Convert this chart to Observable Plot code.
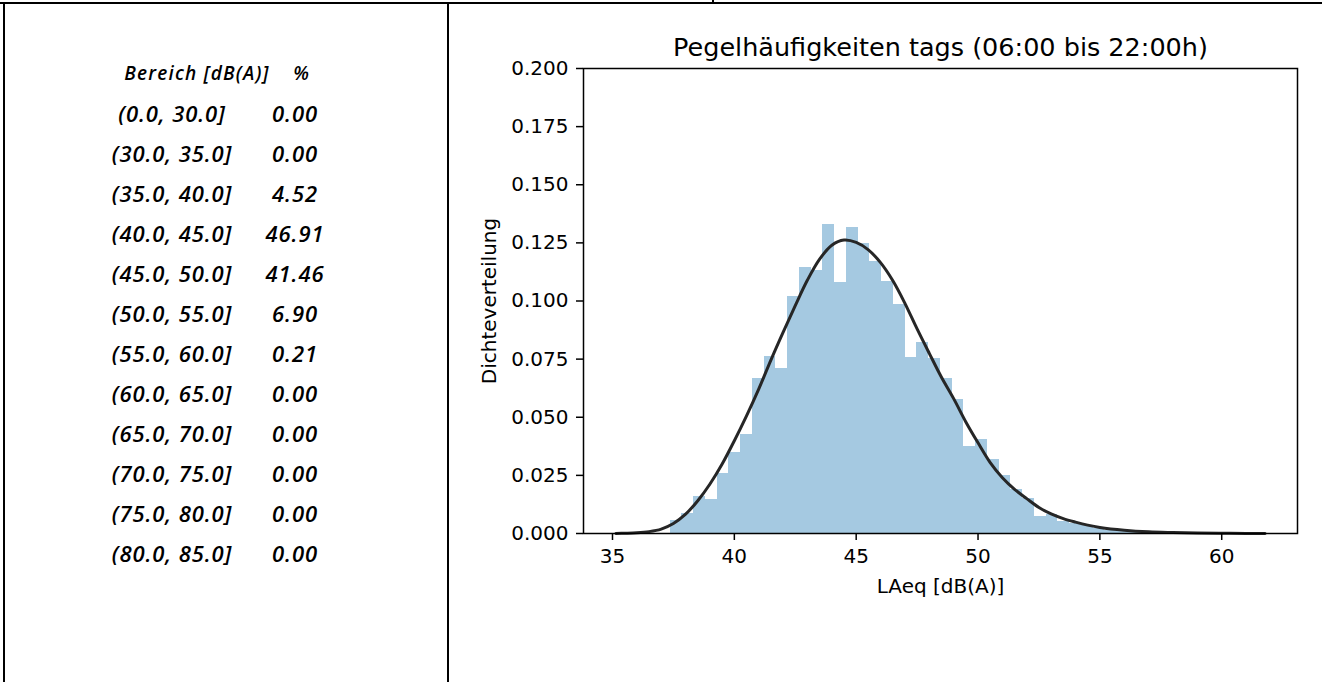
<!DOCTYPE html>
<html>
<head>
<meta charset="utf-8">
<script src="https://cdn.jsdelivr.net/npm/d3@7"></script>
<script src="https://cdn.jsdelivr.net/npm/@observablehq/plot@0.6"></script>
<style>
  html, body { margin: 0; padding: 0; background: #fff; overflow: hidden; }
  body { width: 1322px; height: 682px; position: relative; }
  .line { position: absolute; background: #000; }
  .cell { position: absolute; font-family: "Open Sans", sans-serif; font-style: italic; font-weight: 600; color: #000; white-space: nowrap; transform: translate(-50%, -50%); }
  #chart { position: absolute; left: 455px; top: 10px; }
</style>
</head>
<body>
<div class="line" style="left:0;top:2px;width:1322px;height:2px"></div>
<div class="line" style="left:712px;top:0;width:2px;height:3px"></div>
<div class="line" style="left:3px;top:2px;width:2px;height:680px"></div>
<div class="line" style="left:447px;top:2px;width:2px;height:680px"></div>
<div id="table"></div>
<div id="chart"></div>
<script>
// ---- table data ----
const headerRange = "Bereich [dB(A)]";
const headerPct = "%";
const rangeLabels = ["(0.0, 30.0]", "(30.0, 35.0]", "(35.0, 40.0]", "(40.0, 45.0]", "(45.0, 50.0]", "(50.0, 55.0]", "(55.0, 60.0]", "(60.0, 65.0]", "(65.0, 70.0]", "(70.0, 75.0]", "(75.0, 80.0]", "(80.0, 85.0]"];
const percentValues = ["0.00", "0.00", "4.52", "46.91", "41.46", "6.90", "0.21", "0.00", "0.00", "0.00", "0.00", "0.00"];

// ---- chart data ----
const title = "Pegelhäufigkeiten tags (06:00 bis 22:00h)";
const xLabel = "LAeq [dB(A)]";
const yLabel = "Dichteverteilung";
const xTicks = [35, 40, 45, 50, 55, 60];
const yTicks = [0, 0.025, 0.05, 0.075, 0.1, 0.125, 0.15, 0.175, 0.2];

const binEdges = [37.370, 37.852, 38.334, 38.816, 39.298, 39.780, 40.262, 40.744, 41.226, 41.708,
  42.190, 42.672, 43.154, 43.636, 44.118, 44.600, 45.082, 45.564, 46.046, 46.528,
  47.010, 47.492, 47.974, 48.456, 48.938, 49.420, 49.902, 50.384, 50.866, 51.348,
  51.830, 52.312, 52.794, 53.276, 53.758, 54.240, 54.722, 55.204, 55.686, 56.168,
  56.650, 57.132, 57.614, 58.096, 58.578, 59.060, 59.542];
const binDensity = [0.0055, 0.0086, 0.0157, 0.0145, 0.0259, 0.0348, 0.0427, 0.0666, 0.0763, 0.0711,
  0.1018, 0.1142, 0.1130, 0.1328, 0.1080, 0.1318, 0.1248, 0.1168, 0.1086, 0.0984,
  0.0755, 0.0821, 0.0752, 0.0665, 0.0578, 0.0376, 0.0405, 0.0318, 0.0249, 0.0189,
  0.0150, 0.0075, 0.0082, 0.0052, 0.0041, 0.0033, 0.0020, 0.0012, 0.0008, 0.0006,
  0.0004, 0.0004, 0.0002, 0.0000, 0.0002, 0.0002];

const kdeX = [35.14, 35.5, 36.0, 36.5, 37.0, 37.5, 38.0, 38.5, 39.0, 39.5, 40.0, 40.5, 41.0, 41.5, 42.0, 42.5,
  43.0, 43.5, 44.0, 44.5, 45.0, 45.5, 46.0, 46.5, 47.0, 47.5, 48.0, 48.5, 49.0, 49.5, 50.0, 50.5,
  51.0, 51.5, 52.0, 52.5, 53.0, 53.5, 54.0, 54.5, 55.0, 56.0, 57.0, 58.0, 59.0, 60.0, 61.0, 61.78];
const kdeY = [0.0000, 0.0001, 0.0003, 0.0008, 0.0019, 0.0043, 0.0083, 0.0141, 0.0213, 0.0299, 0.0399, 0.0506, 0.0621, 0.0746, 0.0865, 0.0980,
  0.1090, 0.1180, 0.1240, 0.1262, 0.1252, 0.1220, 0.1165, 0.1088, 0.0990, 0.0880, 0.0775, 0.0672, 0.0580, 0.0480, 0.0390, 0.0305,
  0.0240, 0.0190, 0.0150, 0.0112, 0.0084, 0.0064, 0.0049, 0.0036, 0.0026, 0.0014, 0.0007, 0.0004, 0.0002, 0.0001, 0.00004, 0.0000];

// ---- left table ----
const tbl = document.getElementById("table");
function cell(text, x, y, size, ls) {
  const d = document.createElement("div");
  d.className = "cell";
  d.textContent = text;
  d.style.left = x + "px";
  d.style.top = y + "px";
  d.style.fontSize = size + "px";
  d.style.letterSpacing = ls + "px";
  tbl.appendChild(d);
}
cell(headerRange, 197, 73, 19, 1.2);
cell(headerPct, 301, 73, 19, 0);
rangeLabels.forEach((r, i) => {
  cell(r, 172, 113 + i * 40, 22, 0.9);
  cell(percentValues[i], 295, 113 + i * 40, 22, 0.9);
});

// ---- chart ----
const bins = binDensity.map((d, i) => ({x1: binEdges[i], x2: binEdges[i + 1], y: d}));
const kde = kdeX.map((x, i) => ({x, y: kdeY[i]}));

const chart = Plot.plot({
  width: 867,
  height: 600,
  marginLeft: 128,
  marginRight: 25,
  marginTop: 58,
  marginBottom: 77,
  x: {domain: [33.81, 63.11]},
  y: {domain: [0, 0.2]},
  style: {fontFamily: "DejaVu Sans", fontSize: "20px", color: "black", background: "white", overflow: "visible"},
  marks: [
    Plot.rectY(bins, {x1: "x1", x2: "x2", y: "y", fill: "#a5c9e1", inset: 0, shapeRendering: "crispEdges"}),
    Plot.line(kde, {x: "x", y: "y", stroke: "#262626", strokeWidth: 3, curve: "catmull-rom"}),
    Plot.frame({stroke: "black", strokeWidth: 1.5}),
    Plot.axisX({ticks: xTicks, tickSize: 7, tickPadding: 8, strokeWidth: 1.5, label: null, tickFormat: d => String(d)}),
    Plot.axisY({ticks: yTicks, tickSize: 7, tickPadding: 8, strokeWidth: 1.5, label: null, tickFormat: d => d.toFixed(3)}),
    Plot.text([title], {text: d => d, frameAnchor: "top", dy: -21, lineAnchor: "middle", fontSize: 25.5}),
    Plot.text([xLabel], {text: d => d, frameAnchor: "bottom", dy: 53, lineAnchor: "middle", fontSize: 20}),
    Plot.text([yLabel], {text: d => d, frameAnchor: "left", dx: -94, rotate: -90, textAnchor: "middle", lineAnchor: "middle", fontSize: 20})
  ]
});
document.getElementById("chart").appendChild(chart);
</script>
</body>
</html>
